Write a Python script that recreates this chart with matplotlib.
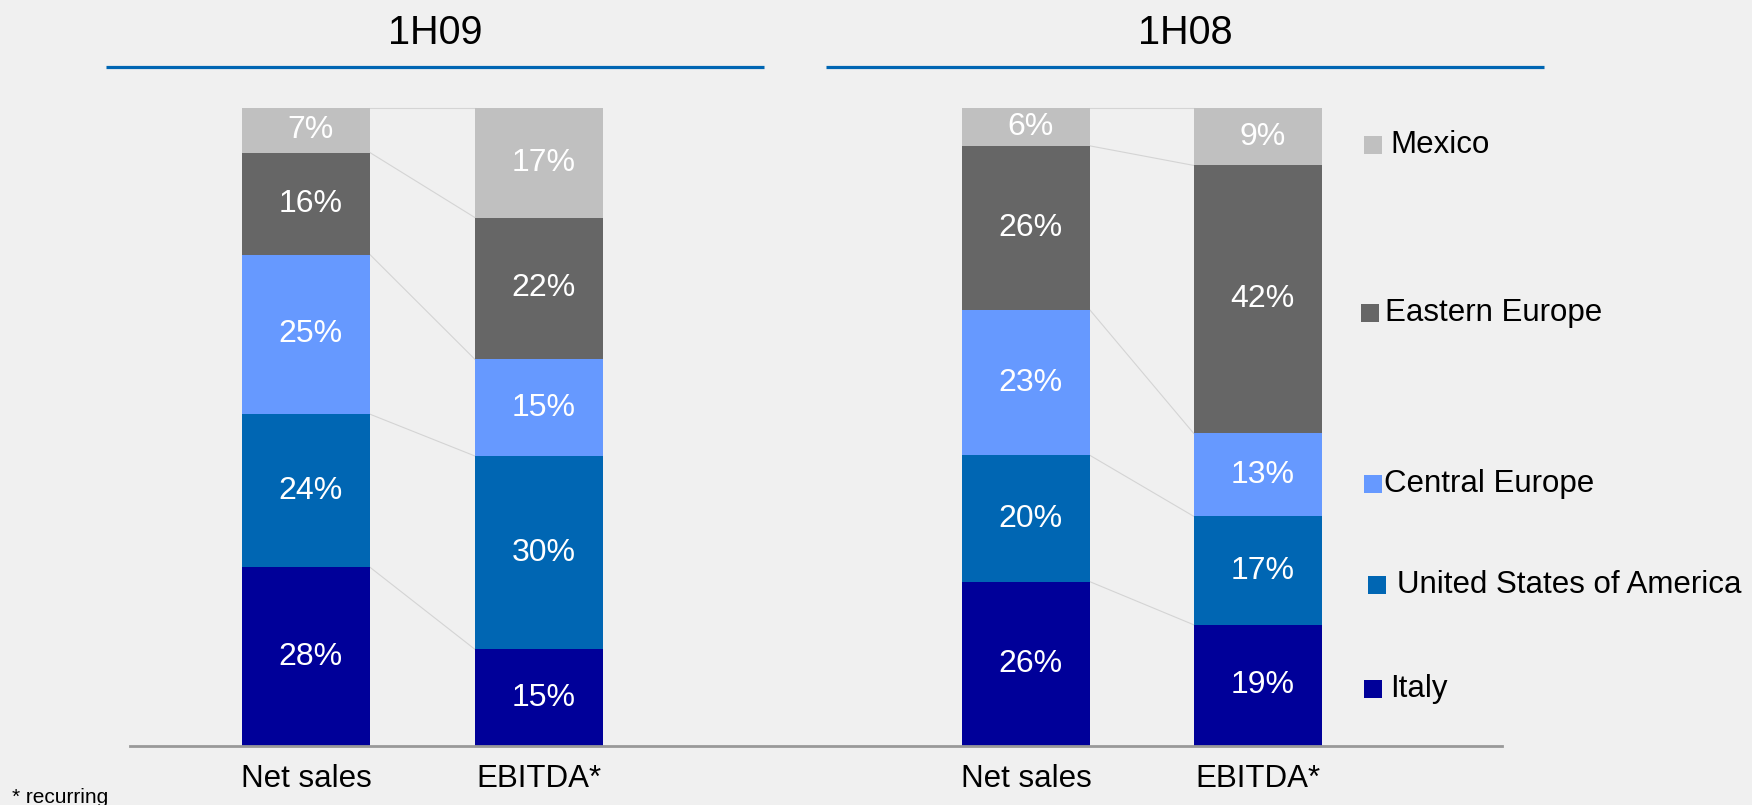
import numpy as np
import matplotlib.pyplot as plt
from matplotlib.patches import Rectangle

plt.rcParams['font.family'] = ['Liberation Sans', 'DejaVu Sans']

regions = ["Italy", "United States of America", "Central Europe", "Eastern Europe", "Mexico"]
colors = ["#000099", "#0066b3", "#6699ff", "#666666", "#c0c0c0"]

bar_names = ["Net sales", "EBITDA*", "Net sales", "EBITDA*"]
periods = ["1H09", "1H08"]

# shares in %, bottom to top: Italy, USA, Central Europe, Eastern Europe, Mexico
net_sales_1h09 = [28, 24, 25, 16, 7]
ebitda_1h09 = [15, 30, 15, 22, 17]
net_sales_1h08 = [26, 20, 23, 26, 6]
ebitda_1h08 = [19, 17, 13, 42, 9]

bars = [net_sales_1h09, ebitda_1h09, net_sales_1h08, ebitda_1h08]
xpos = [0, 1, 3.09, 4.085]
width = 0.55

W, H = 1752, 805
fig = plt.figure(figsize=(W / 100, H / 100), dpi=100)
fig.patch.set_facecolor("#f0f0f0")

# main axes: bars (x unit = 233 px, y: 0 at px 746, 100 at px 108)
ax = fig.add_axes([0, 0, 1, 1])
ax.set_facecolor("none")
px_x = 233.0
ax.set_xlim(-306 / px_x, (W - 306) / px_x)
py = (746 - 108) / 100.0
ax.set_ylim(-(H - 746) / py, 746 / py)
ax.axis("off")

tops = []
for x, vals in zip(xpos, bars):
    v = np.array(vals, dtype=float)
    v = v / v.sum() * 100
    bottom = 0.0
    bnds = []
    for val, lab, c in zip(v, vals, colors):
        ax.bar(x, val, width, bottom=bottom, color=c, linewidth=0)
        ax.text(x + 0.02, bottom + val / 2, f"{lab}%", color="white", fontsize=23,
                ha="center", va="center")
        bottom += val
        bnds.append(bottom)
    tops.append(bnds)

# connector lines between the two bars of each period
for i in (0, 2):
    for a, b in zip(tops[i], tops[i + 1]):
        ax.plot([xpos[i] + width / 2, xpos[i + 1] - width / 2], [a, b],
                color="#d4d4d4", lw=0.8, zorder=0)

# baseline
ax.plot([-176 / px_x, 1196 / px_x], [0, 0], color="#999999", lw=2, zorder=3)

for x, name in zip(xpos, bar_names):
    ax.text(x, -(787 - 746) / py, name, fontsize=22.5, ha="center", va="baseline")

# overlay in pixel coordinates for headers, legend, footnote
ov = fig.add_axes([0, 0, 1, 1])
ov.set_xlim(0, W)
ov.set_ylim(H, 0)
ov.axis("off")
ov.set_facecolor("none")

for name, (x0, x1) in zip(periods, [(106, 764), (826, 1544)]):
    ov.plot([x0, x1], [67, 67], color="#0066b3", lw=2.3, solid_capstyle="butt")
    ov.text((x0 + x1) / 2, 44, name, fontsize=28.5, ha="center", va="baseline")

leg_y = [689, 585, 484, 313, 145]
sq_x = [1364, 1368, 1364, 1361, 1364]
tx_x = [1390, 1397, 1384, 1385, 1390]
for name, c, y, sx, tx in zip(regions, colors, leg_y, sq_x, tx_x):
    ov.add_patch(Rectangle((sx, y - 9), 18, 18, color=c, linewidth=0))
    ov.text(tx, y, name, fontsize=22.5, ha="left", va="center")

ov.text(12, 803, "* recurring", fontsize=15, ha="left", va="baseline")

fig.savefig("out.png", dpi=100, facecolor=fig.get_facecolor())
